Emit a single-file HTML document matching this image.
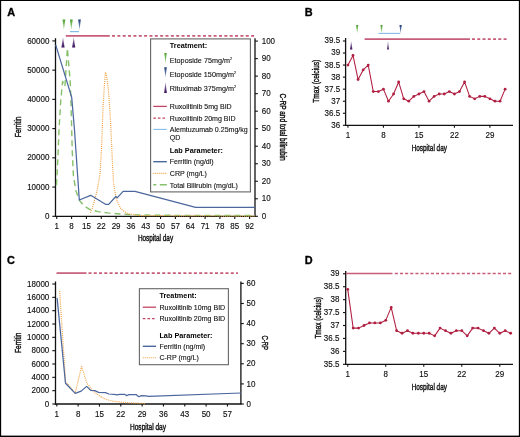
<!DOCTYPE html>
<html><head><meta charset="utf-8"><title>Figure</title>
<style>html,body{margin:0;padding:0;background:#fff;}body{width:520px;height:437px;overflow:hidden;font-family:"Liberation Sans", sans-serif;}svg{display:block;will-change:transform;}</style>
</head><body>
<svg width="520" height="437" viewBox="0 0 520 437" font-family='"Liberation Sans", sans-serif' fill="#111">
<defs>
<linearGradient id="gG" x1="0" y1="0" x2="0" y2="1"><stop offset="0" stop-color="#4ea530"/><stop offset="1" stop-color="#4ea530" stop-opacity="0.45"/></linearGradient>
<linearGradient id="gN" x1="0" y1="0" x2="0" y2="1"><stop offset="0" stop-color="#1c3a7a"/><stop offset="1" stop-color="#1c3a7a" stop-opacity="0.45"/></linearGradient>
<linearGradient id="gP" x1="0" y1="1" x2="0" y2="0"><stop offset="0" stop-color="#3a0e5c"/><stop offset="1" stop-color="#3a0e5c" stop-opacity="0.45"/></linearGradient>
</defs>
<rect x="0" y="0" width="520" height="437" fill="#000"/>
<rect x="1.15" y="1" width="517.7" height="434.6" fill="#fff"/>
<text x="7.2" y="16.3" font-size="11.4" fill="#000" font-weight="bold" textLength="7.87" lengthAdjust="spacingAndGlyphs" stroke="#000" stroke-width="0.35">A</text>
<text x="304.8" y="16.1" font-size="11.4" fill="#000" font-weight="bold" textLength="7.87" lengthAdjust="spacingAndGlyphs" stroke="#000" stroke-width="0.35">B</text>
<text x="7.1" y="264.1" font-size="11.4" fill="#000" font-weight="bold" textLength="7.87" lengthAdjust="spacingAndGlyphs" stroke="#000" stroke-width="0.35">C</text>
<text x="304.8" y="264.1" font-size="11.4" fill="#000" font-weight="bold" textLength="7.87" lengthAdjust="spacingAndGlyphs" stroke="#000" stroke-width="0.35">D</text>
<line x1="55.5" y1="38.2" x2="55.5" y2="216.9" stroke="#111" stroke-width="1.3"/>
<line x1="54.9" y1="216.3" x2="255.6" y2="216.3" stroke="#111" stroke-width="1.3"/>
<line x1="255" y1="38.2" x2="255" y2="216.3" stroke="#111" stroke-width="1.3"/>
<line x1="52.3" y1="216.3" x2="55.5" y2="216.3" stroke="#111" stroke-width="1.1"/>
<text x="49.4" y="218.95" font-size="9" text-anchor="end" textLength="4.45" lengthAdjust="spacingAndGlyphs" stroke="#111" stroke-width="0.15">0</text>
<line x1="52.3" y1="187.07" x2="55.5" y2="187.07" stroke="#111" stroke-width="1.1"/>
<text x="49.4" y="189.72" font-size="9" text-anchor="end" textLength="22.25" lengthAdjust="spacingAndGlyphs" stroke="#111" stroke-width="0.15">10000</text>
<line x1="52.3" y1="157.84" x2="55.5" y2="157.84" stroke="#111" stroke-width="1.1"/>
<text x="49.4" y="160.49" font-size="9" text-anchor="end" textLength="22.25" lengthAdjust="spacingAndGlyphs" stroke="#111" stroke-width="0.15">20000</text>
<line x1="52.3" y1="128.61" x2="55.5" y2="128.61" stroke="#111" stroke-width="1.1"/>
<text x="49.4" y="131.26" font-size="9" text-anchor="end" textLength="22.25" lengthAdjust="spacingAndGlyphs" stroke="#111" stroke-width="0.15">30000</text>
<line x1="52.3" y1="99.38" x2="55.5" y2="99.38" stroke="#111" stroke-width="1.1"/>
<text x="49.4" y="102.03" font-size="9" text-anchor="end" textLength="22.25" lengthAdjust="spacingAndGlyphs" stroke="#111" stroke-width="0.15">40000</text>
<line x1="52.3" y1="70.15" x2="55.5" y2="70.15" stroke="#111" stroke-width="1.1"/>
<text x="49.4" y="72.8" font-size="9" text-anchor="end" textLength="22.25" lengthAdjust="spacingAndGlyphs" stroke="#111" stroke-width="0.15">50000</text>
<line x1="52.3" y1="40.92" x2="55.5" y2="40.92" stroke="#111" stroke-width="1.1"/>
<text x="49.4" y="43.57" font-size="9" text-anchor="end" textLength="22.25" lengthAdjust="spacingAndGlyphs" stroke="#111" stroke-width="0.15">60000</text>
<line x1="255" y1="216.3" x2="257.9" y2="216.3" stroke="#111" stroke-width="1.1"/>
<text x="261.7" y="218.95" font-size="9" textLength="4.45" lengthAdjust="spacingAndGlyphs" stroke="#111" stroke-width="0.15">0</text>
<line x1="255" y1="198.78" x2="257.9" y2="198.78" stroke="#111" stroke-width="1.1"/>
<text x="261.7" y="201.43" font-size="9" textLength="8.9" lengthAdjust="spacingAndGlyphs" stroke="#111" stroke-width="0.15">10</text>
<line x1="255" y1="181.26" x2="257.9" y2="181.26" stroke="#111" stroke-width="1.1"/>
<text x="261.7" y="183.91" font-size="9" textLength="8.9" lengthAdjust="spacingAndGlyphs" stroke="#111" stroke-width="0.15">20</text>
<line x1="255" y1="163.74" x2="257.9" y2="163.74" stroke="#111" stroke-width="1.1"/>
<text x="261.7" y="166.39" font-size="9" textLength="8.9" lengthAdjust="spacingAndGlyphs" stroke="#111" stroke-width="0.15">30</text>
<line x1="255" y1="146.22" x2="257.9" y2="146.22" stroke="#111" stroke-width="1.1"/>
<text x="261.7" y="148.87" font-size="9" textLength="8.9" lengthAdjust="spacingAndGlyphs" stroke="#111" stroke-width="0.15">40</text>
<line x1="255" y1="128.7" x2="257.9" y2="128.7" stroke="#111" stroke-width="1.1"/>
<text x="261.7" y="131.35" font-size="9" textLength="8.9" lengthAdjust="spacingAndGlyphs" stroke="#111" stroke-width="0.15">50</text>
<line x1="255" y1="111.18" x2="257.9" y2="111.18" stroke="#111" stroke-width="1.1"/>
<text x="261.7" y="113.83" font-size="9" textLength="8.9" lengthAdjust="spacingAndGlyphs" stroke="#111" stroke-width="0.15">60</text>
<line x1="255" y1="93.66" x2="257.9" y2="93.66" stroke="#111" stroke-width="1.1"/>
<text x="261.7" y="96.31" font-size="9" textLength="8.9" lengthAdjust="spacingAndGlyphs" stroke="#111" stroke-width="0.15">70</text>
<line x1="255" y1="76.14" x2="257.9" y2="76.14" stroke="#111" stroke-width="1.1"/>
<text x="261.7" y="78.79" font-size="9" textLength="8.9" lengthAdjust="spacingAndGlyphs" stroke="#111" stroke-width="0.15">80</text>
<line x1="255" y1="58.62" x2="257.9" y2="58.62" stroke="#111" stroke-width="1.1"/>
<text x="261.7" y="61.27" font-size="9" textLength="8.9" lengthAdjust="spacingAndGlyphs" stroke="#111" stroke-width="0.15">90</text>
<line x1="255" y1="41.1" x2="257.9" y2="41.1" stroke="#111" stroke-width="1.1"/>
<text x="261.7" y="43.75" font-size="9" textLength="13.35" lengthAdjust="spacingAndGlyphs" stroke="#111" stroke-width="0.15">100</text>
<line x1="56.75" y1="216.3" x2="56.75" y2="218.9" stroke="#111" stroke-width="1.1"/>
<text x="56.75" y="228.9" font-size="9" text-anchor="middle" textLength="4.45" lengthAdjust="spacingAndGlyphs" stroke="#111" stroke-width="0.15">1</text>
<line x1="71.58" y1="216.3" x2="71.58" y2="218.9" stroke="#111" stroke-width="1.1"/>
<text x="71.58" y="228.9" font-size="9" text-anchor="middle" textLength="4.45" lengthAdjust="spacingAndGlyphs" stroke="#111" stroke-width="0.15">8</text>
<line x1="86.42" y1="216.3" x2="86.42" y2="218.9" stroke="#111" stroke-width="1.1"/>
<text x="86.42" y="228.9" font-size="9" text-anchor="middle" textLength="8.9" lengthAdjust="spacingAndGlyphs" stroke="#111" stroke-width="0.15">15</text>
<line x1="101.25" y1="216.3" x2="101.25" y2="218.9" stroke="#111" stroke-width="1.1"/>
<text x="101.25" y="228.9" font-size="9" text-anchor="middle" textLength="8.9" lengthAdjust="spacingAndGlyphs" stroke="#111" stroke-width="0.15">22</text>
<line x1="116.08" y1="216.3" x2="116.08" y2="218.9" stroke="#111" stroke-width="1.1"/>
<text x="116.08" y="228.9" font-size="9" text-anchor="middle" textLength="8.9" lengthAdjust="spacingAndGlyphs" stroke="#111" stroke-width="0.15">29</text>
<line x1="130.92" y1="216.3" x2="130.92" y2="218.9" stroke="#111" stroke-width="1.1"/>
<text x="130.92" y="228.9" font-size="9" text-anchor="middle" textLength="8.9" lengthAdjust="spacingAndGlyphs" stroke="#111" stroke-width="0.15">36</text>
<line x1="145.75" y1="216.3" x2="145.75" y2="218.9" stroke="#111" stroke-width="1.1"/>
<text x="145.75" y="228.9" font-size="9" text-anchor="middle" textLength="8.9" lengthAdjust="spacingAndGlyphs" stroke="#111" stroke-width="0.15">43</text>
<line x1="160.58" y1="216.3" x2="160.58" y2="218.9" stroke="#111" stroke-width="1.1"/>
<text x="160.58" y="228.9" font-size="9" text-anchor="middle" textLength="8.9" lengthAdjust="spacingAndGlyphs" stroke="#111" stroke-width="0.15">50</text>
<line x1="175.41" y1="216.3" x2="175.41" y2="218.9" stroke="#111" stroke-width="1.1"/>
<text x="175.41" y="228.9" font-size="9" text-anchor="middle" textLength="8.9" lengthAdjust="spacingAndGlyphs" stroke="#111" stroke-width="0.15">57</text>
<line x1="190.25" y1="216.3" x2="190.25" y2="218.9" stroke="#111" stroke-width="1.1"/>
<text x="190.25" y="228.9" font-size="9" text-anchor="middle" textLength="8.9" lengthAdjust="spacingAndGlyphs" stroke="#111" stroke-width="0.15">64</text>
<line x1="205.08" y1="216.3" x2="205.08" y2="218.9" stroke="#111" stroke-width="1.1"/>
<text x="205.08" y="228.9" font-size="9" text-anchor="middle" textLength="8.9" lengthAdjust="spacingAndGlyphs" stroke="#111" stroke-width="0.15">71</text>
<line x1="219.91" y1="216.3" x2="219.91" y2="218.9" stroke="#111" stroke-width="1.1"/>
<text x="219.91" y="228.9" font-size="9" text-anchor="middle" textLength="8.9" lengthAdjust="spacingAndGlyphs" stroke="#111" stroke-width="0.15">78</text>
<line x1="234.75" y1="216.3" x2="234.75" y2="218.9" stroke="#111" stroke-width="1.1"/>
<text x="234.75" y="228.9" font-size="9" text-anchor="middle" textLength="8.9" lengthAdjust="spacingAndGlyphs" stroke="#111" stroke-width="0.15">85</text>
<line x1="249.58" y1="216.3" x2="249.58" y2="218.9" stroke="#111" stroke-width="1.1"/>
<text x="249.58" y="228.9" font-size="9" text-anchor="middle" textLength="8.9" lengthAdjust="spacingAndGlyphs" stroke="#111" stroke-width="0.15">92</text>
<text x="155.5" y="241.4" font-size="9.2" text-anchor="middle" textLength="35.2" lengthAdjust="spacingAndGlyphs" stroke="#111" stroke-width="0.42">Hospital day</text>
<text x="21" y="126.8" font-size="9.2" text-anchor="middle" textLength="20.8" lengthAdjust="spacingAndGlyphs" transform="rotate(-90 21 126.8)" stroke="#111" stroke-width="0.42">Ferritin</text>
<text x="280.4" y="127.1" font-size="9.2" text-anchor="middle" textLength="67" lengthAdjust="spacingAndGlyphs" transform="rotate(90 280.4 127.1)" stroke="#111" stroke-width="0.42">C-RP and total bilirubin</text>
<polyline points="56.5,185.2 57.9,158 59,130 60.8,100 62.6,81.4 64.9,86.5 67.4,48.3 70.2,82 70.9,100 71.6,125 72.2,150 73.4,175.6 75.9,190.7 79.7,200.8 84,205.8 89.2,209.2 98,211.6 107.7,212.9 120,214 132.3,214.8 160,215.3 255,215.5" fill="none" stroke="#86c06a" stroke-width="1.4" stroke-linejoin="round" stroke-dasharray="6,4"/>
<polyline points="90.3,212.8 92.2,208.5 96.8,192 100.2,173 101.9,140 103,108 104.2,88 105.4,72.2 106.6,76 108.5,90.7 110.2,115 111.2,135 112.3,160 113.5,182.4 116.3,199.5 121,209 127.7,213.7 140,215.6 255,216.2" fill="none" stroke="#f0a040" stroke-width="1.2" stroke-linejoin="round" stroke-dasharray="1,1.1"/>
<polyline points="55.7,44.9 71.7,97.4 74.5,130 79.3,200 90.7,195.3 105.5,204.3 108.7,204.3 115.8,196.5 117.2,197.8 123.1,191.4 135,191.4 195.6,207.3 255,207.3" fill="none" stroke="#4c679e" stroke-width="1.25" stroke-linejoin="round"/>
<line x1="65.8" y1="35.8" x2="109.8" y2="35.8" stroke="#c75d7a" stroke-width="1.7"/>
<line x1="112" y1="35.8" x2="256" y2="35.8" stroke="#c75d7a" stroke-width="1.7" stroke-dasharray="3,2.35"/>
<line x1="70" y1="31.6" x2="79" y2="31.6" stroke="#86bde8" stroke-width="1.2"/>
<path d="M62.45,19.4 L65.35,19.4 L63.9,29.7 Z" fill="url(#gG)"/>
<path d="M69.85,19.4 L72.75,19.4 L71.3,29.7 Z" fill="url(#gG)"/>
<path d="M78.15,19.4 L80.85,19.4 L79.5,29.7 Z" fill="url(#gN)"/>
<path d="M61.4,47.6 L64.6,47.6 L63,37.2 Z" fill="url(#gP)"/>
<path d="M72.1,47.6 L75.3,47.6 L73.7,37.2 Z" fill="url(#gP)"/>
<rect x="150.6" y="38.9" width="99.8" height="153" fill="#fff" stroke="#666" stroke-width="1.1"/>
<text x="169.8" y="47.9" font-size="7.8" fill="#000" font-weight="bold" textLength="37.32" lengthAdjust="spacingAndGlyphs">Treatment:</text>
<path d="M164.25,53 L166.75,53 L165.5,63.4 Z" fill="url(#gG)"/>
<text x="169.8" y="62.7" font-size="7.8" textLength="62.22" lengthAdjust="spacingAndGlyphs" stroke="#111" stroke-width="0.12">Etoposide 75mg/m<tspan font-size="4" dy="-2.7">2</tspan></text>
<path d="M164.25,67.2 L166.75,67.2 L165.5,77.8 Z" fill="url(#gN)"/>
<text x="169.8" y="76.8" font-size="7.8" textLength="66.19" lengthAdjust="spacingAndGlyphs" stroke="#111" stroke-width="0.12">Etoposide 150mg/m<tspan font-size="4" dy="-2.7">2</tspan></text>
<path d="M164.15,92.9 L166.85,92.9 L165.5,81.9 Z" fill="url(#gP)"/>
<text x="169.8" y="91.1" font-size="7.8" textLength="66.18" lengthAdjust="spacingAndGlyphs" stroke="#111" stroke-width="0.12">Rituximab 375mg/m<tspan font-size="4" dy="-2.7">2</tspan></text>
<line x1="153.3" y1="106.4" x2="166.8" y2="106.4" stroke="#c24563" stroke-width="1.3"/>
<text x="169.8" y="109" font-size="7.8" textLength="61.91" lengthAdjust="spacingAndGlyphs" stroke="#111" stroke-width="0.12">Ruxolitinib 5mg BID</text>
<line x1="153.3" y1="118.2" x2="166.8" y2="118.2" stroke="#c24563" stroke-width="1.3" stroke-dasharray="2.6,2"/>
<text x="169.8" y="120.7" font-size="7.8" textLength="65.83" lengthAdjust="spacingAndGlyphs" stroke="#111" stroke-width="0.12">Ruxolitinib 20mg BID</text>
<line x1="153.3" y1="129.4" x2="166.8" y2="129.4" stroke="#86bde8" stroke-width="1.1"/>
<text x="169.8" y="132.1" font-size="7.8" textLength="77.98" lengthAdjust="spacingAndGlyphs" stroke="#111" stroke-width="0.12">Alemtuzumab 0.25mg/kg</text>
<text x="169.8" y="140.4" font-size="7.8" textLength="10.57" lengthAdjust="spacingAndGlyphs" stroke="#111" stroke-width="0.12">QD</text>
<text x="169.8" y="152.5" font-size="7.8" fill="#000" font-weight="bold" textLength="53.15" lengthAdjust="spacingAndGlyphs">Lab Parameter:</text>
<line x1="153.3" y1="161.7" x2="166.8" y2="161.7" stroke="#4c679e" stroke-width="1.4"/>
<text x="169.8" y="164.4" font-size="7.8" textLength="43.88" lengthAdjust="spacingAndGlyphs" stroke="#111" stroke-width="0.12">Ferritin (ng/dl)</text>
<line x1="153.3" y1="173.4" x2="166.8" y2="173.4" stroke="#f0a040" stroke-width="1.1" stroke-dasharray="1,1"/>
<text x="169.8" y="176" font-size="7.8" textLength="37.09" lengthAdjust="spacingAndGlyphs" stroke="#111" stroke-width="0.12">CRP (mg/L)</text>
<line x1="153.3" y1="184.8" x2="166.8" y2="184.8" stroke="#86c06a" stroke-width="1.4" stroke-dasharray="7,3.5" stroke-dashoffset="4"/>
<text x="169.8" y="187.5" font-size="7.8" textLength="68.18" lengthAdjust="spacingAndGlyphs" stroke="#111" stroke-width="0.12">Total Bilirubin (mg/dL)</text>
<line x1="345.6" y1="38" x2="345.6" y2="125.9" stroke="#111" stroke-width="1.3"/>
<line x1="345" y1="125.3" x2="513" y2="125.3" stroke="#111" stroke-width="1.3"/>
<line x1="342.9" y1="125.3" x2="345.6" y2="125.3" stroke="#111" stroke-width="1.1"/>
<text x="340.1" y="127.75" font-size="8.7" text-anchor="end" textLength="8.9" lengthAdjust="spacingAndGlyphs" stroke="#111" stroke-width="0.15">36</text>
<line x1="342.9" y1="113.25" x2="345.6" y2="113.25" stroke="#111" stroke-width="1.1"/>
<text x="340.1" y="115.7" font-size="8.7" text-anchor="end" textLength="15.57" lengthAdjust="spacingAndGlyphs" stroke="#111" stroke-width="0.15">36.5</text>
<line x1="342.9" y1="101.21" x2="345.6" y2="101.21" stroke="#111" stroke-width="1.1"/>
<text x="340.1" y="103.66" font-size="8.7" text-anchor="end" textLength="8.9" lengthAdjust="spacingAndGlyphs" stroke="#111" stroke-width="0.15">37</text>
<line x1="342.9" y1="89.16" x2="345.6" y2="89.16" stroke="#111" stroke-width="1.1"/>
<text x="340.1" y="91.61" font-size="8.7" text-anchor="end" textLength="15.57" lengthAdjust="spacingAndGlyphs" stroke="#111" stroke-width="0.15">37.5</text>
<line x1="342.9" y1="77.12" x2="345.6" y2="77.12" stroke="#111" stroke-width="1.1"/>
<text x="340.1" y="79.57" font-size="8.7" text-anchor="end" textLength="8.9" lengthAdjust="spacingAndGlyphs" stroke="#111" stroke-width="0.15">38</text>
<line x1="342.9" y1="65.07" x2="345.6" y2="65.07" stroke="#111" stroke-width="1.1"/>
<text x="340.1" y="67.52" font-size="8.7" text-anchor="end" textLength="15.57" lengthAdjust="spacingAndGlyphs" stroke="#111" stroke-width="0.15">38.5</text>
<line x1="342.9" y1="53.03" x2="345.6" y2="53.03" stroke="#111" stroke-width="1.1"/>
<text x="340.1" y="55.48" font-size="8.7" text-anchor="end" textLength="8.9" lengthAdjust="spacingAndGlyphs" stroke="#111" stroke-width="0.15">39</text>
<line x1="342.9" y1="40.98" x2="345.6" y2="40.98" stroke="#111" stroke-width="1.1"/>
<text x="340.1" y="43.44" font-size="8.7" text-anchor="end" textLength="15.57" lengthAdjust="spacingAndGlyphs" stroke="#111" stroke-width="0.15">39.5</text>
<line x1="347.95" y1="125.3" x2="347.95" y2="127.8" stroke="#111" stroke-width="1.1"/>
<text x="347.95" y="138.1" font-size="8.7" text-anchor="middle" textLength="4.45" lengthAdjust="spacingAndGlyphs" stroke="#111" stroke-width="0.15">1</text>
<line x1="383.44" y1="125.3" x2="383.44" y2="127.8" stroke="#111" stroke-width="1.1"/>
<text x="383.44" y="138.1" font-size="8.7" text-anchor="middle" textLength="4.45" lengthAdjust="spacingAndGlyphs" stroke="#111" stroke-width="0.15">8</text>
<line x1="418.93" y1="125.3" x2="418.93" y2="127.8" stroke="#111" stroke-width="1.1"/>
<text x="418.93" y="138.1" font-size="8.7" text-anchor="middle" textLength="8.9" lengthAdjust="spacingAndGlyphs" stroke="#111" stroke-width="0.15">15</text>
<line x1="454.42" y1="125.3" x2="454.42" y2="127.8" stroke="#111" stroke-width="1.1"/>
<text x="454.42" y="138.1" font-size="8.7" text-anchor="middle" textLength="8.9" lengthAdjust="spacingAndGlyphs" stroke="#111" stroke-width="0.15">22</text>
<line x1="489.91" y1="125.3" x2="489.91" y2="127.8" stroke="#111" stroke-width="1.1"/>
<text x="489.91" y="138.1" font-size="8.7" text-anchor="middle" textLength="8.9" lengthAdjust="spacingAndGlyphs" stroke="#111" stroke-width="0.15">29</text>
<text x="429.3" y="150.8" font-size="9.2" text-anchor="middle" textLength="35.2" lengthAdjust="spacingAndGlyphs" stroke="#111" stroke-width="0.42">Hospital day</text>
<text x="318.9" y="81.2" font-size="9.2" text-anchor="middle" textLength="43" lengthAdjust="spacingAndGlyphs" transform="rotate(-90 318.9 81.2)" stroke="#111" stroke-width="0.42">Tmax (celcius)</text>
<line x1="364.6" y1="39.1" x2="470" y2="39.1" stroke="#c75d7a" stroke-width="1.7"/>
<line x1="472" y1="39.1" x2="507" y2="39.1" stroke="#c75d7a" stroke-width="1.7" stroke-dasharray="3,2.26"/>
<line x1="378.5" y1="33.4" x2="400.2" y2="33.4" stroke="#86bde8" stroke-width="1.1"/>
<path d="M356.05,24.9 L358.35,24.9 L357.2,33.4 Z" fill="url(#gG)"/>
<path d="M380.35,24.9 L382.65,24.9 L381.5,33.4 Z" fill="url(#gG)"/>
<path d="M399.45,24.9 L401.75,24.9 L400.6,33.4 Z" fill="url(#gN)"/>
<path d="M350,49.6 L352.4,49.6 L351.2,41 Z" fill="url(#gP)"/>
<path d="M387.05,49.6 L388.95,49.6 L388,41 Z" fill="url(#gP)"/>
<polyline points="347.95,65.07 353.02,55.44 358.09,79.53 363.16,69.89 368.23,65.07 373.3,91.57 378.37,91.57 383.44,89.16 388.51,101.21 393.58,93.98 398.65,81.94 403.72,98.8 408.79,101.21 413.86,96.39 418.93,93.98 424,91.57 429.07,101.21 434.14,96.39 439.21,93.98 444.28,93.98 449.35,91.57 454.42,93.98 459.49,91.57 464.56,81.94 469.63,96.39 474.7,98.8 479.77,96.39 484.84,96.39 489.91,98.8 494.98,101.21 500.05,101.21 505.12,89.16" fill="none" stroke="#b01e40" stroke-width="1.05" stroke-linejoin="round"/>
<circle cx="347.95" cy="65.07" r="1.4" fill="#b01e40"/>
<circle cx="353.02" cy="55.44" r="1.4" fill="#b01e40"/>
<circle cx="358.09" cy="79.53" r="1.4" fill="#b01e40"/>
<circle cx="363.16" cy="69.89" r="1.4" fill="#b01e40"/>
<circle cx="368.23" cy="65.07" r="1.4" fill="#b01e40"/>
<circle cx="373.3" cy="91.57" r="1.4" fill="#b01e40"/>
<circle cx="378.37" cy="91.57" r="1.4" fill="#b01e40"/>
<circle cx="383.44" cy="89.16" r="1.4" fill="#b01e40"/>
<circle cx="388.51" cy="101.21" r="1.4" fill="#b01e40"/>
<circle cx="393.58" cy="93.98" r="1.4" fill="#b01e40"/>
<circle cx="398.65" cy="81.94" r="1.4" fill="#b01e40"/>
<circle cx="403.72" cy="98.8" r="1.4" fill="#b01e40"/>
<circle cx="408.79" cy="101.21" r="1.4" fill="#b01e40"/>
<circle cx="413.86" cy="96.39" r="1.4" fill="#b01e40"/>
<circle cx="418.93" cy="93.98" r="1.4" fill="#b01e40"/>
<circle cx="424" cy="91.57" r="1.4" fill="#b01e40"/>
<circle cx="429.07" cy="101.21" r="1.4" fill="#b01e40"/>
<circle cx="434.14" cy="96.39" r="1.4" fill="#b01e40"/>
<circle cx="439.21" cy="93.98" r="1.4" fill="#b01e40"/>
<circle cx="444.28" cy="93.98" r="1.4" fill="#b01e40"/>
<circle cx="449.35" cy="91.57" r="1.4" fill="#b01e40"/>
<circle cx="454.42" cy="93.98" r="1.4" fill="#b01e40"/>
<circle cx="459.49" cy="91.57" r="1.4" fill="#b01e40"/>
<circle cx="464.56" cy="81.94" r="1.4" fill="#b01e40"/>
<circle cx="469.63" cy="96.39" r="1.4" fill="#b01e40"/>
<circle cx="474.7" cy="98.8" r="1.4" fill="#b01e40"/>
<circle cx="479.77" cy="96.39" r="1.4" fill="#b01e40"/>
<circle cx="484.84" cy="96.39" r="1.4" fill="#b01e40"/>
<circle cx="489.91" cy="98.8" r="1.4" fill="#b01e40"/>
<circle cx="494.98" cy="101.21" r="1.4" fill="#b01e40"/>
<circle cx="500.05" cy="101.21" r="1.4" fill="#b01e40"/>
<circle cx="505.12" cy="89.16" r="1.4" fill="#b01e40"/>
<line x1="55.5" y1="281.5" x2="55.5" y2="404.6" stroke="#111" stroke-width="1.3"/>
<line x1="54.9" y1="404" x2="241.5" y2="404" stroke="#111" stroke-width="1.3"/>
<line x1="240.9" y1="281.5" x2="240.9" y2="404" stroke="#111" stroke-width="1.3"/>
<line x1="52.3" y1="404" x2="55.5" y2="404" stroke="#111" stroke-width="1.1"/>
<text x="49.3" y="406.65" font-size="9" text-anchor="end" textLength="4.45" lengthAdjust="spacingAndGlyphs" stroke="#111" stroke-width="0.15">0</text>
<line x1="52.3" y1="390.67" x2="55.5" y2="390.67" stroke="#111" stroke-width="1.1"/>
<text x="49.3" y="393.32" font-size="9" text-anchor="end" textLength="17.8" lengthAdjust="spacingAndGlyphs" stroke="#111" stroke-width="0.15">2000</text>
<line x1="52.3" y1="377.34" x2="55.5" y2="377.34" stroke="#111" stroke-width="1.1"/>
<text x="49.3" y="379.99" font-size="9" text-anchor="end" textLength="17.8" lengthAdjust="spacingAndGlyphs" stroke="#111" stroke-width="0.15">4000</text>
<line x1="52.3" y1="364.01" x2="55.5" y2="364.01" stroke="#111" stroke-width="1.1"/>
<text x="49.3" y="366.66" font-size="9" text-anchor="end" textLength="17.8" lengthAdjust="spacingAndGlyphs" stroke="#111" stroke-width="0.15">6000</text>
<line x1="52.3" y1="350.68" x2="55.5" y2="350.68" stroke="#111" stroke-width="1.1"/>
<text x="49.3" y="353.33" font-size="9" text-anchor="end" textLength="17.8" lengthAdjust="spacingAndGlyphs" stroke="#111" stroke-width="0.15">8000</text>
<line x1="52.3" y1="337.35" x2="55.5" y2="337.35" stroke="#111" stroke-width="1.1"/>
<text x="49.3" y="340" font-size="9" text-anchor="end" textLength="22.25" lengthAdjust="spacingAndGlyphs" stroke="#111" stroke-width="0.15">10000</text>
<line x1="52.3" y1="324.02" x2="55.5" y2="324.02" stroke="#111" stroke-width="1.1"/>
<text x="49.3" y="326.67" font-size="9" text-anchor="end" textLength="22.25" lengthAdjust="spacingAndGlyphs" stroke="#111" stroke-width="0.15">12000</text>
<line x1="52.3" y1="310.69" x2="55.5" y2="310.69" stroke="#111" stroke-width="1.1"/>
<text x="49.3" y="313.34" font-size="9" text-anchor="end" textLength="22.25" lengthAdjust="spacingAndGlyphs" stroke="#111" stroke-width="0.15">14000</text>
<line x1="52.3" y1="297.36" x2="55.5" y2="297.36" stroke="#111" stroke-width="1.1"/>
<text x="49.3" y="300.01" font-size="9" text-anchor="end" textLength="22.25" lengthAdjust="spacingAndGlyphs" stroke="#111" stroke-width="0.15">16000</text>
<line x1="52.3" y1="284.03" x2="55.5" y2="284.03" stroke="#111" stroke-width="1.1"/>
<text x="49.3" y="286.68" font-size="9" text-anchor="end" textLength="22.25" lengthAdjust="spacingAndGlyphs" stroke="#111" stroke-width="0.15">18000</text>
<line x1="240.9" y1="404" x2="243.8" y2="404" stroke="#111" stroke-width="1.1"/>
<text x="246.6" y="406.65" font-size="9" textLength="4.45" lengthAdjust="spacingAndGlyphs" stroke="#111" stroke-width="0.15">0</text>
<line x1="240.9" y1="383.9" x2="243.8" y2="383.9" stroke="#111" stroke-width="1.1"/>
<text x="246.6" y="386.55" font-size="9" textLength="8.9" lengthAdjust="spacingAndGlyphs" stroke="#111" stroke-width="0.15">10</text>
<line x1="240.9" y1="363.8" x2="243.8" y2="363.8" stroke="#111" stroke-width="1.1"/>
<text x="246.6" y="366.45" font-size="9" textLength="8.9" lengthAdjust="spacingAndGlyphs" stroke="#111" stroke-width="0.15">20</text>
<line x1="240.9" y1="343.7" x2="243.8" y2="343.7" stroke="#111" stroke-width="1.1"/>
<text x="246.6" y="346.35" font-size="9" textLength="8.9" lengthAdjust="spacingAndGlyphs" stroke="#111" stroke-width="0.15">30</text>
<line x1="240.9" y1="323.6" x2="243.8" y2="323.6" stroke="#111" stroke-width="1.1"/>
<text x="246.6" y="326.25" font-size="9" textLength="8.9" lengthAdjust="spacingAndGlyphs" stroke="#111" stroke-width="0.15">40</text>
<line x1="240.9" y1="303.5" x2="243.8" y2="303.5" stroke="#111" stroke-width="1.1"/>
<text x="246.6" y="306.15" font-size="9" textLength="8.9" lengthAdjust="spacingAndGlyphs" stroke="#111" stroke-width="0.15">50</text>
<line x1="240.9" y1="283.4" x2="243.8" y2="283.4" stroke="#111" stroke-width="1.1"/>
<text x="246.6" y="286.05" font-size="9" textLength="8.9" lengthAdjust="spacingAndGlyphs" stroke="#111" stroke-width="0.15">60</text>
<line x1="56.8" y1="404" x2="56.8" y2="406.6" stroke="#111" stroke-width="1.1"/>
<text x="56.8" y="416.6" font-size="9" text-anchor="middle" textLength="4.45" lengthAdjust="spacingAndGlyphs" stroke="#111" stroke-width="0.15">1</text>
<line x1="78.13" y1="404" x2="78.13" y2="406.6" stroke="#111" stroke-width="1.1"/>
<text x="78.13" y="416.6" font-size="9" text-anchor="middle" textLength="4.45" lengthAdjust="spacingAndGlyphs" stroke="#111" stroke-width="0.15">8</text>
<line x1="99.46" y1="404" x2="99.46" y2="406.6" stroke="#111" stroke-width="1.1"/>
<text x="99.46" y="416.6" font-size="9" text-anchor="middle" textLength="8.9" lengthAdjust="spacingAndGlyphs" stroke="#111" stroke-width="0.15">15</text>
<line x1="120.79" y1="404" x2="120.79" y2="406.6" stroke="#111" stroke-width="1.1"/>
<text x="120.79" y="416.6" font-size="9" text-anchor="middle" textLength="8.9" lengthAdjust="spacingAndGlyphs" stroke="#111" stroke-width="0.15">22</text>
<line x1="142.12" y1="404" x2="142.12" y2="406.6" stroke="#111" stroke-width="1.1"/>
<text x="142.12" y="416.6" font-size="9" text-anchor="middle" textLength="8.9" lengthAdjust="spacingAndGlyphs" stroke="#111" stroke-width="0.15">29</text>
<line x1="163.44" y1="404" x2="163.44" y2="406.6" stroke="#111" stroke-width="1.1"/>
<text x="163.44" y="416.6" font-size="9" text-anchor="middle" textLength="8.9" lengthAdjust="spacingAndGlyphs" stroke="#111" stroke-width="0.15">36</text>
<line x1="184.77" y1="404" x2="184.77" y2="406.6" stroke="#111" stroke-width="1.1"/>
<text x="184.77" y="416.6" font-size="9" text-anchor="middle" textLength="8.9" lengthAdjust="spacingAndGlyphs" stroke="#111" stroke-width="0.15">43</text>
<line x1="206.1" y1="404" x2="206.1" y2="406.6" stroke="#111" stroke-width="1.1"/>
<text x="206.1" y="416.6" font-size="9" text-anchor="middle" textLength="8.9" lengthAdjust="spacingAndGlyphs" stroke="#111" stroke-width="0.15">50</text>
<line x1="227.43" y1="404" x2="227.43" y2="406.6" stroke="#111" stroke-width="1.1"/>
<text x="227.43" y="416.6" font-size="9" text-anchor="middle" textLength="8.9" lengthAdjust="spacingAndGlyphs" stroke="#111" stroke-width="0.15">57</text>
<text x="148" y="429.8" font-size="9.2" text-anchor="middle" textLength="36" lengthAdjust="spacingAndGlyphs" stroke="#111" stroke-width="0.42">Hospital day</text>
<text x="21" y="342.8" font-size="9.2" text-anchor="middle" textLength="20.4" lengthAdjust="spacingAndGlyphs" transform="rotate(-90 21 342.8)" stroke="#111" stroke-width="0.42">Ferritin</text>
<text x="261.6" y="342.7" font-size="9.2" text-anchor="middle" textLength="14.6" lengthAdjust="spacingAndGlyphs" transform="rotate(90 261.6 342.7)" stroke="#111" stroke-width="0.42">C-RP</text>
<line x1="56.5" y1="273.1" x2="86.5" y2="273.1" stroke="#c75d7a" stroke-width="1.7"/>
<line x1="88.5" y1="273.1" x2="238" y2="273.1" stroke="#c75d7a" stroke-width="1.7" stroke-dasharray="3,2.27"/>
<polyline points="59.6,291 65.6,381.5 75.2,393 81.6,366.4 86.6,382.6 92.7,390.7 99.4,396 106.1,399.4 112.9,401.2 125,402.6 145,403.6" fill="none" stroke="#f0a040" stroke-width="1.2" stroke-linejoin="round" stroke-dasharray="1,1.1"/>
<polyline points="57.1,297.9 65.5,383.3 75.2,393.4 81.2,391.1 86.6,386.4 90.7,390.3 94.7,390.7 98.7,392.4 105.5,392.7 108.8,394 113.8,394.3 117.5,394.9 119.6,394.3 124.4,394.3 126.8,395.6 129.2,394.5 136,394.5 138.8,396.7 141.3,395.6 146,395.8 148.5,396.3 241,393" fill="none" stroke="#4c679e" stroke-width="1.25" stroke-linejoin="round"/>
<rect x="139.4" y="288.7" width="89" height="76" fill="#fff" stroke="#666" stroke-width="1.1"/>
<text x="159.4" y="298.2" font-size="7.8" fill="#000" font-weight="bold" textLength="37.32" lengthAdjust="spacingAndGlyphs">Treatment:</text>
<line x1="142.8" y1="307.2" x2="156.1" y2="307.2" stroke="#c24563" stroke-width="1.3"/>
<text x="159.4" y="309.8" font-size="7.8" textLength="65.83" lengthAdjust="spacingAndGlyphs" stroke="#111" stroke-width="0.12">Ruxolitinib 10mg BID</text>
<line x1="142.8" y1="318.7" x2="156.1" y2="318.7" stroke="#c24563" stroke-width="1.3" stroke-dasharray="2.6,2"/>
<text x="159.4" y="321.3" font-size="7.8" textLength="65.83" lengthAdjust="spacingAndGlyphs" stroke="#111" stroke-width="0.12">Ruxolitinib 20mg BID</text>
<text x="159.4" y="338.2" font-size="7.8" fill="#000" font-weight="bold" textLength="53.15" lengthAdjust="spacingAndGlyphs">Lab Parameter:</text>
<line x1="142.8" y1="346.3" x2="156.1" y2="346.3" stroke="#4c679e" stroke-width="1.4"/>
<text x="159.4" y="348.9" font-size="7.8" textLength="45.83" lengthAdjust="spacingAndGlyphs" stroke="#111" stroke-width="0.12">Ferritin (ng/ml)</text>
<line x1="142.8" y1="357.8" x2="156.1" y2="357.8" stroke="#f0a040" stroke-width="1.1" stroke-dasharray="1,1"/>
<text x="159.4" y="360.4" font-size="7.8" textLength="39.43" lengthAdjust="spacingAndGlyphs" stroke="#111" stroke-width="0.12">C-RP (mg/L)</text>
<line x1="345.7" y1="271" x2="345.7" y2="364.9" stroke="#111" stroke-width="1.3"/>
<line x1="345.1" y1="364.3" x2="513" y2="364.3" stroke="#111" stroke-width="1.3"/>
<line x1="343" y1="364.3" x2="345.7" y2="364.3" stroke="#111" stroke-width="1.1"/>
<text x="339.4" y="366.9" font-size="8.7" text-anchor="end" textLength="15.57" lengthAdjust="spacingAndGlyphs" stroke="#111" stroke-width="0.15">35.5</text>
<line x1="343" y1="351.37" x2="345.7" y2="351.37" stroke="#111" stroke-width="1.1"/>
<text x="339.4" y="353.97" font-size="8.7" text-anchor="end" textLength="8.9" lengthAdjust="spacingAndGlyphs" stroke="#111" stroke-width="0.15">36</text>
<line x1="343" y1="338.44" x2="345.7" y2="338.44" stroke="#111" stroke-width="1.1"/>
<text x="339.4" y="341.04" font-size="8.7" text-anchor="end" textLength="15.57" lengthAdjust="spacingAndGlyphs" stroke="#111" stroke-width="0.15">36.5</text>
<line x1="343" y1="325.51" x2="345.7" y2="325.51" stroke="#111" stroke-width="1.1"/>
<text x="339.4" y="328.11" font-size="8.7" text-anchor="end" textLength="8.9" lengthAdjust="spacingAndGlyphs" stroke="#111" stroke-width="0.15">37</text>
<line x1="343" y1="312.58" x2="345.7" y2="312.58" stroke="#111" stroke-width="1.1"/>
<text x="339.4" y="315.18" font-size="8.7" text-anchor="end" textLength="15.57" lengthAdjust="spacingAndGlyphs" stroke="#111" stroke-width="0.15">37.5</text>
<line x1="343" y1="299.65" x2="345.7" y2="299.65" stroke="#111" stroke-width="1.1"/>
<text x="339.4" y="302.25" font-size="8.7" text-anchor="end" textLength="8.9" lengthAdjust="spacingAndGlyphs" stroke="#111" stroke-width="0.15">38</text>
<line x1="343" y1="286.72" x2="345.7" y2="286.72" stroke="#111" stroke-width="1.1"/>
<text x="339.4" y="289.32" font-size="8.7" text-anchor="end" textLength="15.57" lengthAdjust="spacingAndGlyphs" stroke="#111" stroke-width="0.15">38.5</text>
<line x1="343" y1="273.79" x2="345.7" y2="273.79" stroke="#111" stroke-width="1.1"/>
<text x="339.4" y="276.39" font-size="8.7" text-anchor="end" textLength="8.9" lengthAdjust="spacingAndGlyphs" stroke="#111" stroke-width="0.15">39</text>
<line x1="347.75" y1="364.3" x2="347.75" y2="366.8" stroke="#111" stroke-width="1.1"/>
<text x="347.75" y="377.2" font-size="8.7" text-anchor="middle" textLength="4.45" lengthAdjust="spacingAndGlyphs" stroke="#111" stroke-width="0.15">1</text>
<line x1="385.76" y1="364.3" x2="385.76" y2="366.8" stroke="#111" stroke-width="1.1"/>
<text x="385.76" y="377.2" font-size="8.7" text-anchor="middle" textLength="4.45" lengthAdjust="spacingAndGlyphs" stroke="#111" stroke-width="0.15">8</text>
<line x1="423.77" y1="364.3" x2="423.77" y2="366.8" stroke="#111" stroke-width="1.1"/>
<text x="423.77" y="377.2" font-size="8.7" text-anchor="middle" textLength="8.9" lengthAdjust="spacingAndGlyphs" stroke="#111" stroke-width="0.15">15</text>
<line x1="461.78" y1="364.3" x2="461.78" y2="366.8" stroke="#111" stroke-width="1.1"/>
<text x="461.78" y="377.2" font-size="8.7" text-anchor="middle" textLength="8.9" lengthAdjust="spacingAndGlyphs" stroke="#111" stroke-width="0.15">22</text>
<line x1="499.79" y1="364.3" x2="499.79" y2="366.8" stroke="#111" stroke-width="1.1"/>
<text x="499.79" y="377.2" font-size="8.7" text-anchor="middle" textLength="8.9" lengthAdjust="spacingAndGlyphs" stroke="#111" stroke-width="0.15">29</text>
<text x="429.3" y="390.2" font-size="9.2" text-anchor="middle" textLength="35.2" lengthAdjust="spacingAndGlyphs" stroke="#111" stroke-width="0.42">Hospital day</text>
<text x="320.9" y="317.8" font-size="9.2" text-anchor="middle" textLength="41.6" lengthAdjust="spacingAndGlyphs" transform="rotate(-90 320.9 317.8)" stroke="#111" stroke-width="0.42">Tmax (celcius)</text>
<line x1="346" y1="273.5" x2="392.5" y2="273.5" stroke="#c75d7a" stroke-width="1.7"/>
<line x1="394.8" y1="273.5" x2="513" y2="273.5" stroke="#c75d7a" stroke-width="1.7" stroke-dasharray="3.1,2.05"/>
<polyline points="347.75,289.31 353.18,328.1 358.61,328.1 364.04,325.51 369.47,322.92 374.9,322.92 380.33,322.92 385.76,320.34 391.19,307.41 396.62,330.68 402.05,333.27 407.48,330.68 412.91,333.27 418.34,333.27 423.77,333.27 429.2,333.27 434.63,335.85 440.06,328.1 445.49,330.68 450.92,333.27 456.35,330.68 461.78,330.68 467.21,335.85 472.64,328.1 478.07,328.1 483.5,330.68 488.93,333.27 494.36,328.1 499.79,333.27 505.22,330.68 510.65,333.27" fill="none" stroke="#b01e40" stroke-width="1.05" stroke-linejoin="round"/>
<circle cx="347.75" cy="289.31" r="1.4" fill="#b01e40"/>
<circle cx="353.18" cy="328.1" r="1.4" fill="#b01e40"/>
<circle cx="358.61" cy="328.1" r="1.4" fill="#b01e40"/>
<circle cx="364.04" cy="325.51" r="1.4" fill="#b01e40"/>
<circle cx="369.47" cy="322.92" r="1.4" fill="#b01e40"/>
<circle cx="374.9" cy="322.92" r="1.4" fill="#b01e40"/>
<circle cx="380.33" cy="322.92" r="1.4" fill="#b01e40"/>
<circle cx="385.76" cy="320.34" r="1.4" fill="#b01e40"/>
<circle cx="391.19" cy="307.41" r="1.4" fill="#b01e40"/>
<circle cx="396.62" cy="330.68" r="1.4" fill="#b01e40"/>
<circle cx="402.05" cy="333.27" r="1.4" fill="#b01e40"/>
<circle cx="407.48" cy="330.68" r="1.4" fill="#b01e40"/>
<circle cx="412.91" cy="333.27" r="1.4" fill="#b01e40"/>
<circle cx="418.34" cy="333.27" r="1.4" fill="#b01e40"/>
<circle cx="423.77" cy="333.27" r="1.4" fill="#b01e40"/>
<circle cx="429.2" cy="333.27" r="1.4" fill="#b01e40"/>
<circle cx="434.63" cy="335.85" r="1.4" fill="#b01e40"/>
<circle cx="440.06" cy="328.1" r="1.4" fill="#b01e40"/>
<circle cx="445.49" cy="330.68" r="1.4" fill="#b01e40"/>
<circle cx="450.92" cy="333.27" r="1.4" fill="#b01e40"/>
<circle cx="456.35" cy="330.68" r="1.4" fill="#b01e40"/>
<circle cx="461.78" cy="330.68" r="1.4" fill="#b01e40"/>
<circle cx="467.21" cy="335.85" r="1.4" fill="#b01e40"/>
<circle cx="472.64" cy="328.1" r="1.4" fill="#b01e40"/>
<circle cx="478.07" cy="328.1" r="1.4" fill="#b01e40"/>
<circle cx="483.5" cy="330.68" r="1.4" fill="#b01e40"/>
<circle cx="488.93" cy="333.27" r="1.4" fill="#b01e40"/>
<circle cx="494.36" cy="328.1" r="1.4" fill="#b01e40"/>
<circle cx="499.79" cy="333.27" r="1.4" fill="#b01e40"/>
<circle cx="505.22" cy="330.68" r="1.4" fill="#b01e40"/>
<circle cx="510.65" cy="333.27" r="1.4" fill="#b01e40"/>
</svg>
</body></html>
